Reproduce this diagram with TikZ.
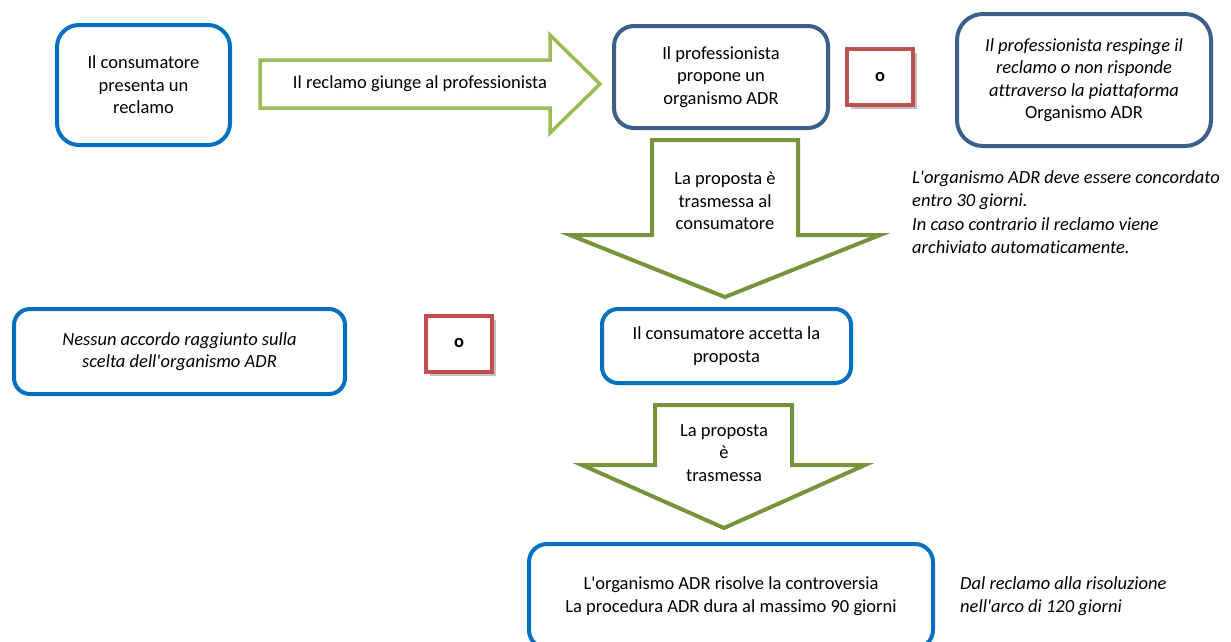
\documentclass[tikz,border=0pt]{standalone}
\usepackage{fontspec}
\setmainfont{Carlito}[RawFeature={-liga;-clig;-calt;-dlig}]
\usepackage{tikz}
\usetikzlibrary{shadows}
\definecolor{boxblue}{HTML}{0070C0}
\definecolor{boxnavy}{HTML}{3A5F8B}
\definecolor{boxred}{HTML}{C0504D}
\definecolor{arrlight}{HTML}{9BBB59}
\definecolor{arrolive}{HTML}{77933C}
\newcommand{\aps}{\textquotesingle}

\begin{document}
\begin{tikzpicture}[x=1pt,y=-1pt,font=\fontsize{18.5}{22.5}\selectfont,
stepbox/.style n args={3}{draw=#1,line width=4pt,fill=white,minimum width=#2pt,minimum height=#3pt,align=center,inner sep=0pt},
orbox/.style={draw=boxred,line width=4pt,fill=white,minimum width=66pt,minimum height=56pt,inner sep=0pt,font=\fontsize{18.5}{22.5}\selectfont\bfseries,drop shadow={shadow xshift=4pt,shadow yshift=-4pt,fill=black!40,opacity=0.6}},
note/.style={anchor=west,align=left,font=\fontsize{18.5}{23.5}\selectfont\itshape,inner sep=0pt}]
\useasboundingbox (0,0) rectangle (1231,641);
\node[stepbox={boxblue}{173}{120},rounded corners=22pt] (consumer) at (143.5,85) {Il consumatore\\presenta un\\reclamo};
\node[stepbox={boxnavy}{214}{102},rounded corners=20pt] (prof) at (721,77) {Il professionista\\propone un\\organismo ADR};
\node[stepbox={boxnavy}{254}{132},rounded corners=26pt] (reject) at (1084,80) {\itshape Il professionista respinge il\\\itshape reclamo o non risponde\\\itshape attraverso la piattaforma\\Organismo ADR};
\node[stepbox={boxblue}{331}{85},rounded corners=16pt] (noagree) at (179.5,351.5) {\itshape Nessun accordo raggiunto sulla\\\itshape scelta dell\aps organismo ADR};
\node[stepbox={boxblue}{249}{74},rounded corners=16pt] (accept) at (726.5,346) {Il consumatore accetta la\\proposta};
\node[stepbox={boxblue}{404}{104},rounded corners=18pt] (resolve) at (731,596) {L\aps organismo ADR risolve la controversia\\La procedura ADR dura al massimo 90 giorni};
\foreach \n/\x/\y in {or1/880/77,or2/459/343.5} {
   \node[orbox] (\n) at (\x,\y) {o};
}
\draw[arrlight,line width=3.5pt,line join=miter] (260,60) -- (550,60) -- (550,35) -- (600,84) -- (550,133) -- (550,108) -- (260,108) -- cycle;
\node (complaint) at (420,84) {Il reclamo giunge al professionista};
\draw[arrolive,line width=4pt,line join=miter] (652,140) -- (798,140) -- (798,235) -- (880,235) -- (725,297) -- (570,235) -- (652,235) -- cycle;
\node[align=center] (sent1) at (725,201) {La proposta è\\trasmessa al\\consumatore};
\draw[arrolive,line width=4pt,line join=miter] (655,405) -- (792,405) -- (792,465) -- (865,465) -- (724,528) -- (582,465) -- (655,465) -- cycle;
\node[align=center] (sent2) at (724,453) {La proposta\\è\\trasmessa};
\node[note] (deadline) at (912,212) {L\aps organismo ADR deve essere concordato\\entro 30 giorni.\\In caso contrario il reclamo viene\\archiviato automaticamente.};
\node[note] (total) at (960,596) {Dal reclamo alla risoluzione\\nell\aps arco di 120 giorni};
\end{tikzpicture}
\end{document}
